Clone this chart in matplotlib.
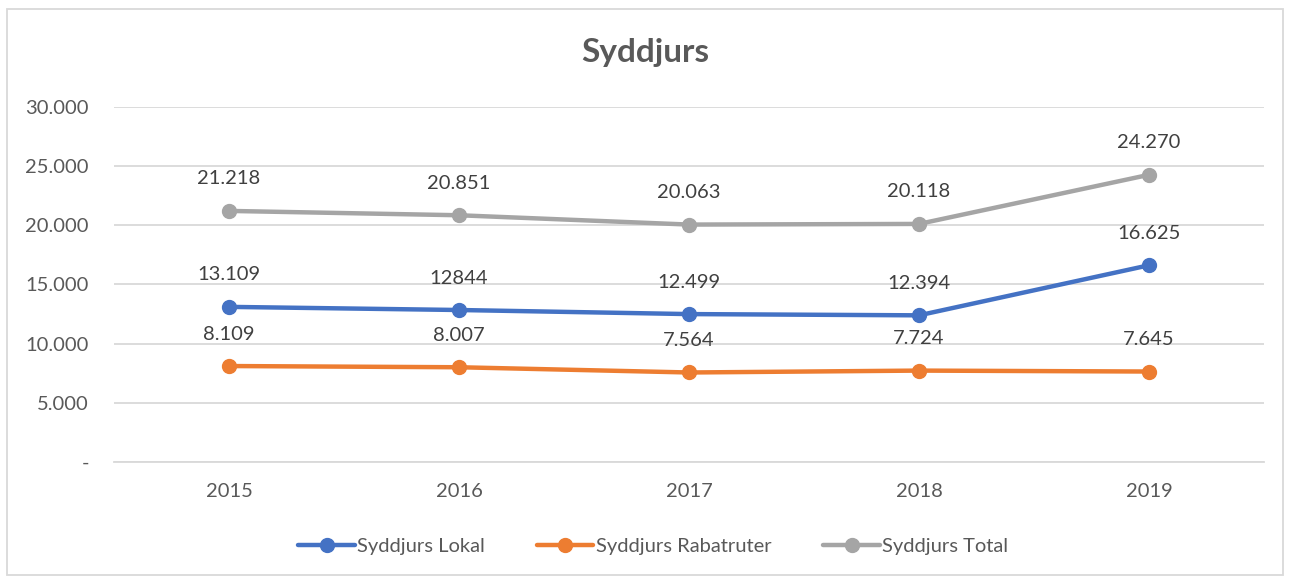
import matplotlib
matplotlib.use("Agg")
import matplotlib.pyplot as plt
from matplotlib.patches import Rectangle

plt.rcParams["font.family"] = ["Lato", "DejaVu Sans"]

years = ["2015", "2016", "2017", "2018", "2019"]
lokal = [13109, 12844, 12499, 12394, 16625]
rabat = [8109, 8007, 7564, 7724, 7645]
total = [21218, 20851, 20063, 20118, 24270]

lokal_labels = ["13.109", "12844", "12.499", "12.394", "16.625"]
rabat_labels = ["8.109", "8.007", "7.564", "7.724", "7.645"]
total_labels = ["21.218", "20.851", "20.063", "20.118", "24.270"]

yticks = [0, 5000, 10000, 15000, 20000, 25000, 30000]
ytick_labels = ["-", "5.000", "10.000", "15.000", "20.000", "25.000", "30.000"]

text_col = "#595959"
grid_col = "#D9D9D9"
fs = 14.5

fig = plt.figure(figsize=(12.91, 5.78), dpi=100)
ax = fig.add_axes([0.0883, 0.2007, 0.8908, 0.6142])

series = [
    ("Syddjurs Lokal", lokal, lokal_labels, "#4472C4"),
    ("Syddjurs Rabatruter", rabat, rabat_labels, "#ED7D31"),
    ("Syddjurs Total", total, total_labels, "#A5A5A5"),
]

x = list(range(len(years)))
for name, vals, labs, col in series:
    ax.plot(x, vals, color=col, lw=3.2, marker="o", ms=10, label=name,
            solid_capstyle="round")
    for xi, v, lab in zip(x, vals, labs):
        ax.annotate(lab, (xi, v), xytext=(0, 23), textcoords="offset points",
                    ha="center", va="center", fontsize=fs, color="#404040")

ax.set_xlim(-0.5, len(years) - 0.5)
ax.set_ylim(0, 30000)
ax.set_xticks(x)
ax.set_xticklabels(years)
ax.set_yticks(yticks)
ax.set_yticklabels(ytick_labels)
ax.tick_params(axis="both", length=0, labelsize=fs, colors=text_col)
ax.tick_params(axis="y", pad=18)
ax.tick_params(axis="x", pad=15)
ax.yaxis.grid(True, color=grid_col, lw=1.3)
ax.set_axisbelow(True)
for s in ["top", "right", "left"]:
    ax.spines[s].set_visible(False)
ax.spines["bottom"].set_color(grid_col)
ax.spines["bottom"].set_linewidth(1.3)

fig.text(0.5, 0.910, "Syddjurs", ha="center", va="center", fontsize=24,
         fontweight="bold", color=text_col)

fig.legend(loc="center", bbox_to_anchor=(0.506, 0.055), ncol=3, frameon=False,
           fontsize=fs, handlelength=2.8, handletextpad=0.1, columnspacing=2.6,
           labelcolor=text_col)

fig.patches.append(Rectangle((7 / 1291, 3 / 578), 1276 / 1291, 566 / 578,
                             transform=fig.transFigure, fill=False,
                             edgecolor=grid_col, lw=1.3))

fig.savefig("out.png", dpi=100)
